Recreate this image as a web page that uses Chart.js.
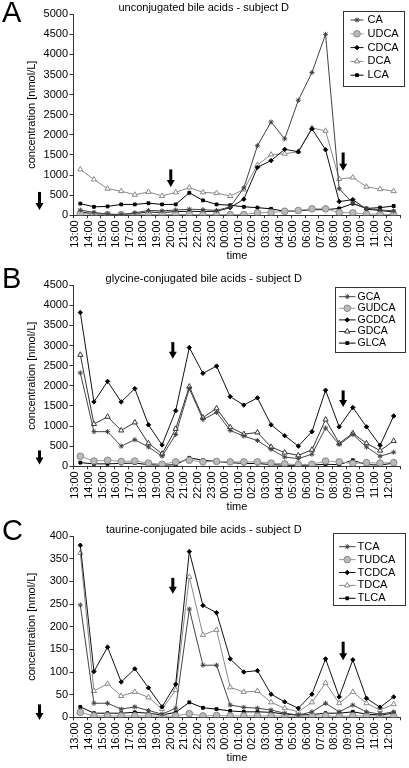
<!DOCTYPE html>
<html>
<head>
<meta charset="utf-8">
<script src="https://cdn.jsdelivr.net/npm/chart.js@4.4.1/dist/chart.umd.min.js"></script>
<style>
  body { margin: 0; background: #fff; }
  #wrap { position: relative; width: 409px; height: 768px; overflow: hidden; }
  #wrap canvas { position: absolute; left: 0; }
  .panel { position: absolute; left: 2px; font-family: "Liberation Sans", Arial, sans-serif; font-size: 29px; line-height: 29px; color: #000; }
</style>
</head>
<body>
<div id="wrap">
  <canvas id="chartA" width="409" height="263" style="top:0px"></canvas>
  <canvas id="chartB" width="409" height="243" style="top:271px"></canvas>
  <canvas id="chartC" width="409" height="243" style="top:522px"></canvas>
  <div class="panel" style="top:-2px">A</div>
  <div class="panel" style="top:264px">B</div>
  <div class="panel" style="top:516px">C</div>
</div>
<script>
// sampling times (x axis)
const timeLabels = ["13:00", "14:00", "15:00", "16:00", "17:00", "18:00", "19:00", "20:00",
  "21:00", "22:00", "23:00", "00:00", "01:00", "02:00", "03:00", "04:00", "05:00", "06:00",
  "07:00", "08:00", "09:00", "10:00", "11:00", "12:00"];

// A - unconjugated bile acids [nmol/L]
const namesA = ["CA", "UDCA", "CDCA", "DCA", "LCA"];
const caA = [130, 70, 30, 20, 60, 120, 110, 130, 150, 140, 120, 210, 680, 1730, 2320, 1900, 2860, 3550, 4500, 660, 300, 170, 130, 110];
const udcaA = [40, 20, 15, 15, 15, 15, 15, 20, 20, 15, 15, 15, 20, 60, 70, 100, 120, 160, 160, 70, 60, 30, 30, 15];
const cdcaA = [80, 40, 20, 20, 40, 80, 70, 90, 100, 90, 100, 190, 400, 1190, 1360, 1640, 1580, 2150, 1630, 340, 390, 150, 120, 80];
const dcaA = [1140, 890, 660, 600, 510, 580, 480, 570, 690, 570, 550, 480, 640, 1250, 1510, 1530, 1580, 2170, 2100, 900, 940, 710, 650, 600];
const lcaA = [290, 210, 220, 270, 270, 300, 270, 270, 560, 370, 270, 250, 210, 190, 160, 100, 110, 140, 140, 170, 290, 170, 190, 230];

// B - glycine-conjugated bile acids [nmol/L]
const namesB = ["GCA", "GUDCA", "GCDCA", "GDCA", "GLCA"];
const gcaB = [2320, 860, 860, 500, 660, 480, 250, 790, 1930, 1160, 1340, 890, 750, 640, 420, 230, 190, 300, 950, 540, 790, 480, 250, 350];
const gudcaB = [250, 130, 150, 120, 130, 80, 50, 110, 150, 110, 120, 110, 110, 110, 80, 60, 40, 50, 130, 110, 70, 90, 80, 90];
const gcdcaB = [3820, 1600, 2110, 1600, 1930, 1030, 530, 1380, 2950, 2310, 2490, 1730, 1520, 1700, 1030, 760, 500, 860, 1890, 980, 1460, 980, 520, 1250];
const gdcaB = [2770, 1050, 1230, 890, 1090, 570, 310, 930, 1980, 1210, 1440, 970, 800, 840, 480, 340, 270, 410, 1160, 570, 820, 570, 390, 630];
const glcaB = [90, 60, 60, 70, 80, 40, 25, 40, 210, 150, 120, 90, 70, 70, 40, 25, 25, 30, 50, 40, 150, 40, 30, 80];

// C - taurine-conjugated bile acids [nmol/L]
const namesC = ["TCA", "TUDCA", "TCDCA", "TDCA", "TLCA"];
const tcaC = [248, 31, 31, 18, 23, 15, 7, 20, 239, 115, 115, 27, 22, 20, 16, 9, 5, 12, 31, 12, 27, 12, 7, 12];
const tudcaC = [11, 3, 3, 3, 3, 3, 2, 3, 8, 3, 4, 3, 3, 3, 3, 3, 2, 3, 3, 2, 3, 3, 3, 2];
const tcdcaC = [380, 101, 155, 78, 107, 65, 23, 73, 366, 247, 231, 129, 100, 103, 51, 34, 20, 51, 129, 45, 127, 42, 22, 45];
const tdcaC = [363, 58, 74, 47, 56, 44, 18, 60, 310, 182, 193, 66, 56, 58, 33, 20, 12, 33, 76, 31, 56, 31, 16, 29];
const tlcaC = [23, 9, 9, 9, 11, 9, 5, 11, 33, 21, 18, 14, 12, 12, 11, 7, 5, 6, 9, 9, 12, 7, 5, 9];

const FONT = '"Liberation Sans", Arial, sans-serif';

// marker look of the five series (same order in every panel)
const seriesStyles = [
  { pointStyle: "star", radius: 2.5, fill: "#444", stroke: "#444", line: "#444" },
  { pointStyle: "circle", radius: 3.3, fill: "#bbb", stroke: "#888", line: "#999" },
  { pointStyle: "rectRot", radius: 2.2, fill: "#000", stroke: "#000", line: "#111" },
  { pointStyle: "triangle", radius: 3, fill: "#fff", stroke: "#777", line: "#888" },
  { pointStyle: "rect", radius: 2, fill: "#000", stroke: "#000", line: "#000" },
];

// legend box drawn inside the plot, like the original figure
const boxLegend = {
  id: "boxLegend",
  afterDraw(chart, args, opts) {
    const ctx = chart.ctx;
    ctx.save();
    ctx.fillStyle = "#fff";
    ctx.fillRect(opts.x, opts.y, opts.w, opts.h);
    ctx.strokeStyle = "#333";
    ctx.lineWidth = 1;
    ctx.strokeRect(Math.round(opts.x) + 0.5, Math.round(opts.y) + 0.5, opts.w, opts.h);
    chart.data.datasets.forEach((ds, i) => {
      const y = opts.rowY + i * opts.rowH;
      ctx.strokeStyle = ds.borderColor;
      ctx.lineWidth = 1;
      ctx.beginPath();
      ctx.moveTo(opts.lineX0, y);
      ctx.lineTo(opts.lineX1, y);
      ctx.stroke();
      ctx.fillStyle = ds.pointBackgroundColor;
      ctx.strokeStyle = ds.pointBorderColor;
      Chart.helpers.drawPoint(ctx, { pointStyle: ds.pointStyle, radius: ds.pointRadius, borderWidth: 1, rotation: 0 },
        (opts.lineX0 + opts.lineX1) / 2, y);
      ctx.fillStyle = "#000";
      ctx.font = opts.fontSize + "px " + FONT;
      ctx.textBaseline = "middle";
      ctx.textAlign = "left";
      ctx.fillText(ds.label, opts.textX, y);
    });
    ctx.restore();
  },
};

// black down arrows (meal markers); "at" is a category position, "dx" an offset from the y axis
const arrowMarks = {
  id: "arrowMarks",
  afterDatasetsDraw(chart, args, opts) {
    const ctx = chart.ctx;
    const xs = chart.scales.x, ys = chart.scales.y;
    const step = xs.getPixelForValue(1) - xs.getPixelForValue(0);
    ctx.save();
    ctx.fillStyle = "#000";
    opts.items.forEach((a) => {
      const x = a.dx !== undefined ? chart.chartArea.left + a.dx : xs.getPixelForValue(0) + a.at * step;
      const yTop = ys.getPixelForValue(a.from);
      const yTip = ys.getPixelForValue(a.to);
      ctx.fillRect(x - 1.5, yTop, 3, yTip - yTop - 6);
      ctx.beginPath();
      ctx.moveTo(x - 4, yTip - 7);
      ctx.lineTo(x + 4, yTip - 7);
      ctx.lineTo(x, yTip);
      ctx.closePath();
      ctx.fill();
    });
    ctx.restore();
  },
};

const makeDatasets = (names, values, dcaLine) =>
  names.map((name, i) => {
    const s = seriesStyles[i];
    const line = i === 3 && dcaLine ? dcaLine : s.line;
    return {
      label: name,
      data: values[i],
      borderColor: line,
      borderWidth: 1,
      pointStyle: s.pointStyle,
      pointRadius: s.radius,
      pointBackgroundColor: s.fill,
      pointBorderColor: i === 3 && dcaLine ? dcaLine : s.stroke,
      pointBorderWidth: 1,
      tension: 0,
    };
  });

// one panel of the figure
const createChart = (id, title, datasets, yMax, yStep, legend, arrows) => {
  new Chart(document.getElementById(id), {
    type: "line",
    data: { labels: timeLabels, datasets: datasets },
    options: {
      responsive: false,
      animation: false,
      layout: { padding: { left: 0, right: 1.5, top: 0, bottom: 0 } },
      scales: {
        x: {
          offset: true,
          grid: { offset: true, drawOnChartArea: false, drawTicks: true, tickLength: 3, color: "#333" },
          border: { display: true, color: "#333" },
          ticks: {
            autoSkip: false, minRotation: 90, maxRotation: 90, padding: 2, labelOffset: -5,
            color: "#000", font: { family: FONT, size: 11 },
          },
          title: { display: true, text: "time", color: "#000", padding: { top: 0, bottom: 0 }, font: { family: FONT, size: 11 } },
        },
        y: {
          min: 0,
          max: yMax,
          afterFit: (scale) => { scale.width = 73.5; },
          grid: { drawOnChartArea: false, drawTicks: true, tickLength: 4, color: "#333" },
          border: { display: true, color: "#333" },
          ticks: {
            stepSize: yStep, padding: 1.5, color: "#000", font: { family: FONT, size: 11 },
            callback: (value) => String(value), // no thousands separator
          },
          title: {
            display: true, text: "concentration [nmol/L]", color: "#000",
            padding: { top: 25, bottom: 0 }, font: { family: FONT, size: 11 },
          },
        },
      },
      plugins: {
        title: { display: true, text: title, color: "#000", padding: { top: 1, bottom: 0 }, font: { family: FONT, size: 11, weight: "normal" } },
        legend: { display: false },
        tooltip: { enabled: false },
        boxLegend: legend,
        arrowMarks: { items: arrows },
      },
    },
    plugins: [arrowMarks, boxLegend],
  });
};

document.addEventListener("DOMContentLoaded", () => {
  createChart("chartA", "unconjugated bile acids - subject D",
    makeDatasets(namesA, [caA, udcaA, cdcaA, dcaA, lcaA], "#888"), 5000, 500,
    { x: 343, y: 11, w: 61, h: 75, rowY: 20, rowH: 13.8, lineX0: 350.5, lineX1: 363.5, textX: 367.5, fontSize: 11 },
    [{ at: 6.64, from: 1140, to: 705 }, { at: 19.29, from: 1560, to: 1110 }, { dx: -34, from: 580, to: 130 }]);

  createChart("chartB", "glycine-conjugated bile acids - subject D",
    makeDatasets(namesB, [gcaB, gudcaB, gcdcaB, gdcaB, glcaB], "#333"), 4500, 500,
    { x: 334.5, y: 16, w: 70, h: 65, rowY: 25.7, rowH: 11.6, lineX0: 339, lineX1: 355.5, textX: 357.5, fontSize: 10.5 },
    [{ at: 6.79, from: 3085, to: 2675 }, { at: 19.29, from: 1885, to: 1475 }, { dx: -34, from: 394, to: 42 }]);

  createChart("chartC", "taurine-conjugated bile acids - subject D",
    makeDatasets(namesC, [tcaC, tudcaC, tcdcaC, tdcaC, tlcaC], "#888"), 400, 50,
    { x: 332.5, y: 11.3, w: 72, h: 72, rowY: 24.7, rowH: 12.9, lineX0: 339, lineX1: 355.5, textX: 357.5, fontSize: 11 },
    [{ at: 6.79, from: 308, to: 273 }, { at: 19.29, from: 167, to: 126 }, { dx: -34, from: 28.5, to: -6 }]);
});
</script>
</body>
</html>
